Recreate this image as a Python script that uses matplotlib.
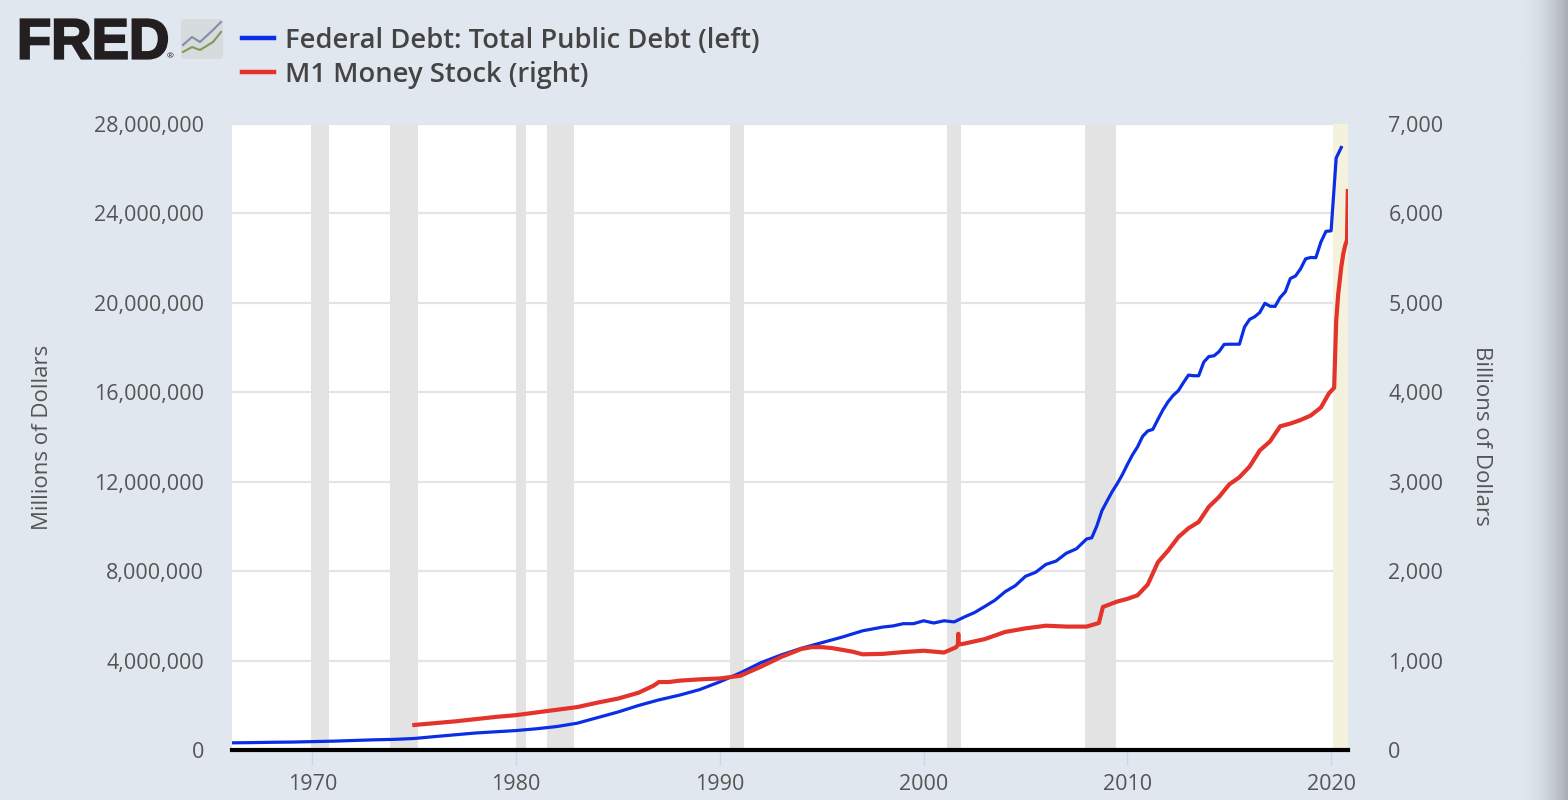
import matplotlib
matplotlib.use('Agg')
import matplotlib.pyplot as plt
import numpy as np
from matplotlib.lines import Line2D
from matplotlib.patches import FancyBboxPatch, PathPatch
from matplotlib.textpath import TextPath
from matplotlib.font_manager import FontProperties
from matplotlib.path import Path
from matplotlib.colors import LinearSegmentedColormap
from matplotlib.ticker import FuncFormatter

plt.rcParams['font.family'] = ['Open Sans', 'DejaVu Sans']

# Federal Debt: Total Public Debt, millions of dollars
debt_years = [1966.0, 1967.0, 1968.0, 1969.0, 1970.0, 1971.0, 1972.0, 1973.0, 1974.0,
              1975.0, 1976.0, 1977.0, 1978.0, 1979.0, 1980.0, 1981.0, 1982.0, 1983.0,
              1984.0, 1985.0, 1986.0, 1987.0, 1988.0, 1989.0, 1990.0, 1991.0, 1992.0,
              1993.0, 1994.0, 1995.0, 1996.0, 1997.0, 1998.0, 1998.5, 1999.0, 1999.5,
              2000.0, 2000.5, 2001.0, 2001.5, 2002.0, 2002.5, 2003.0, 2003.5, 2004.0,
              2004.5, 2005.0, 2005.5, 2006.0, 2006.5, 2007.0, 2007.5, 2008.0, 2008.25,
              2008.5, 2008.75, 2009.0, 2009.25, 2009.5, 2009.75, 2010.0, 2010.25, 2010.5,
              2010.75, 2011.0, 2011.25, 2011.5, 2011.75, 2012.0, 2012.25, 2012.5, 2012.75,
              2013.0, 2013.25, 2013.5, 2013.75, 2014.0, 2014.25, 2014.5, 2014.75, 2015.0,
              2015.25, 2015.5, 2015.75, 2016.0, 2016.25, 2016.5, 2016.75, 2017.0, 2017.25,
              2017.5, 2017.75, 2018.0, 2018.25, 2018.5, 2018.75, 2019.0, 2019.25, 2019.5,
              2019.75, 2020.0, 2020.25, 2020.5]
debt_vals = [320000, 330000, 345000, 355000, 375000, 395000, 425000, 455000, 475000,
             515000, 600000, 680000, 760000, 815000, 870000, 950000, 1050000, 1200000,
             1450000, 1700000, 1990000, 2240000, 2450000, 2700000, 3050000, 3450000, 3900000,
             4250000, 4550000, 4800000, 5050000, 5330000, 5500000, 5550000, 5650000, 5650000,
             5780000, 5680000, 5780000, 5730000, 5950000, 6150000, 6420000, 6700000, 7080000,
             7350000, 7770000, 7950000, 8300000, 8450000, 8800000, 9000000, 9440000, 9490000,
             10020000, 10700000, 11130000, 11550000, 11910000, 12310000, 12770000, 13200000, 13560000,
             14030000, 14270000, 14340000, 14790000, 15220000, 15580000, 15860000, 16070000, 16430000,
             16770000, 16740000, 16740000, 17350000, 17600000, 17630000, 17820000, 18140000, 18150000,
             18150000, 18150000, 18920000, 19260000, 19380000, 19570000, 19980000, 19850000, 19840000,
             20240000, 20490000, 21090000, 21200000, 21520000, 21970000, 22030000, 22020000, 22720000,
             23200000, 23220000, 26480000, 26950000]

# M1 Money Stock, billions of dollars
m1_years = [1975.0, 1976.0, 1977.0, 1978.0, 1979.0, 1980.0, 1981.0, 1982.0, 1983.0,
            1984.0, 1985.0, 1986.0, 1986.75, 1987.0, 1987.5, 1988.0, 1989.0, 1990.0,
            1991.0, 1992.0, 1993.0, 1994.0, 1994.5, 1995.0, 1995.5, 1996.0, 1996.5,
            1997.0, 1998.0, 1999.0, 2000.0, 2001.0, 2001.6, 2001.68, 2001.7, 2001.72,
            2002.0, 2003.0, 2004.0, 2005.0, 2006.0, 2007.0, 2008.0, 2008.6, 2008.8,
            2009.5, 2010.0, 2010.5, 2011.0, 2011.5, 2012.0, 2012.5, 2013.0, 2013.5,
            2014.0, 2014.5, 2015.0, 2015.5, 2016.0, 2016.5, 2017.0, 2017.5, 2018.0,
            2018.5, 2019.0, 2019.5, 2019.9, 2020.15, 2020.25, 2020.35, 2020.5, 2020.6,
            2020.7, 2020.78, 2020.82]
m1_vals = [280, 300, 320, 345, 370, 390, 420, 450, 480,
           530, 575, 640, 720, 760, 760, 775, 790, 800,
           830, 930, 1040, 1130, 1150, 1150, 1140, 1120, 1100,
           1070, 1075, 1095, 1110, 1090, 1150, 1180, 1300, 1180,
           1190, 1240, 1320, 1360, 1390, 1380, 1380, 1420, 1600,
           1660, 1690, 1730, 1850, 2100, 2230, 2380, 2480, 2550,
           2720, 2830, 2970, 3050, 3170, 3350, 3450, 3620, 3650,
           3690, 3740, 3830, 3990, 4050, 4800, 5100, 5400, 5550,
           5650, 5700, 6250]

recessions = [(1969.92, 1970.83), (1973.83, 1975.17), (1980.0, 1980.5), (1981.5, 1982.83),
              (1990.5, 1991.17), (2001.17, 2001.83), (2007.92, 2009.42)]
current_recession_start = 2020.08

series_labels = ['Federal Debt: Total Public Debt (left)', 'M1 Money Stock (right)']
blue = '#0a2ee6'
red = '#e3332a'
bg = '#e1e7ee'
txt = '#555555'

fig = plt.figure(figsize=(15.68, 8), dpi=100, facecolor=bg)
ax = fig.add_axes([232 / 1568, 50 / 800, 1116 / 1568, 626 / 800])
ax.set_facecolor('white')
ax2 = ax.twinx()

ax.set_xlim(1966.05, 2020.83)
ax.set_ylim(0, 28000000)
ax2.set_ylim(0, 7000)

ax.set_axisbelow(True)
ax.yaxis.grid(True, color='#e4e4e4', lw=1.6, zorder=0)
for a, b in recessions:
    ax.axvspan(a, b, color='#e3e3e3', lw=0, zorder=0.8)
ax.axvspan(current_recession_start, 2020.83, color='#f4f2dc', lw=0, zorder=0.8)

ax.plot(debt_years, debt_vals, color=blue, lw=2.3, zorder=3)
ax2.plot(m1_years, m1_vals, color=red, lw=3.0, zorder=3)

ax.set_yticks(np.arange(0, 28000001, 4000000))
ax2.set_yticks(np.arange(0, 7001, 1000))
ax.set_xticks(range(1970, 2021, 10))
fmt = FuncFormatter(lambda v, p: f'{v:,.0f}')
ax.yaxis.set_major_formatter(fmt)
ax2.yaxis.set_major_formatter(fmt)

ax.tick_params(axis='y', length=0, pad=20, labelsize=15.5, labelcolor=txt)
ax2.tick_params(axis='y', length=0, pad=29, labelsize=15.5, labelcolor=txt)
ax.tick_params(axis='x', length=11, width=1, color='#cdd6e6', pad=6,
               labelsize=15.5, labelcolor=txt)

for a in (ax, ax2):
    for s in ('top', 'left', 'right', 'bottom'):
        a.spines[s].set_visible(False)
ax.spines['bottom'].set_visible(True)
ax.spines['bottom'].set_color('black')
ax.spines['bottom'].set_linewidth(3)
ax.spines['bottom'].set_zorder(5)

fig.text(43 / 1568, 1 - 437 / 800, 'Millions of Dollars', rotation=90,
         ha='center', va='center', fontsize=16, color=txt)
fig.text(1482 / 1568, 1 - 436 / 800, 'Billions of Dollars', rotation=270,
         ha='center', va='center', fontsize=16, color=txt)

# legend
for y, col, lab in [(38, blue, series_labels[0]), (72, red, series_labels[1])]:
    fig.add_artist(Line2D([242 / 1568, 274 / 1568], [1 - y / 800, 1 - y / 800],
                          color=col, lw=3.2, transform=fig.transFigure))
    fig.text(285 / 1568, 1 - (y + 10) / 800, lab, ha='left', va='baseline',
             fontsize=19.7, fontweight='semibold', color='#444444')

# FRED logo, drawn in pixel coordinates
logo = fig.add_axes([0, 1 - 66 / 800, 240 / 1568, 56 / 800])
logo.set_xlim(0, 240)
logo.set_ylim(66, 10)
logo.axis('off')
tp = TextPath((0, 0), 'FRED', size=1,
              prop=FontProperties(family='Liberation Sans', weight='bold'))
v = tp.vertices.copy()
x0, y0 = v.min(axis=0)
x1, y1 = v.max(axis=0)
v[:, 0] = 17 + (v[:, 0] - x0) / (x1 - x0) * 150
v[:, 1] = 58.5 - (v[:, 1] - y0) / (y1 - y0) * 39
logo.add_patch(PathPatch(Path(v, tp.codes), fc='#231f20', ec='#231f20', lw=1.6,
                         joinstyle='miter'))
logo.text(170, 57, '®', ha='center', va='center', fontsize=6, color='#231f20')
logo.add_patch(FancyBboxPatch((181, 19), 42, 40, boxstyle='round,pad=0,rounding_size=4',
                              fc='#d8dbde', ec='none'))
logo_x = [183, 192, 200, 213, 221]
logo.plot(logo_x, [45, 37, 42, 30, 22], color='#7d90a8', lw=1.5)
logo.plot(logo_x, [52, 47, 50, 42, 32], color='#7f9a55', lw=1.5)

# screenshot edge shade
edge = fig.add_axes([1518 / 1568, 0, 50 / 1568, 1])
edge.axis('off')
grad = np.linspace(0, 1, 100)[None, :] ** 2
cmap = LinearSegmentedColormap.from_list('edge', [bg, '#a7adb3'])
edge.imshow(grad, aspect='auto', cmap=cmap, extent=(0, 1, 0, 1))

fig.savefig('out.png', dpi=100, facecolor=bg)
